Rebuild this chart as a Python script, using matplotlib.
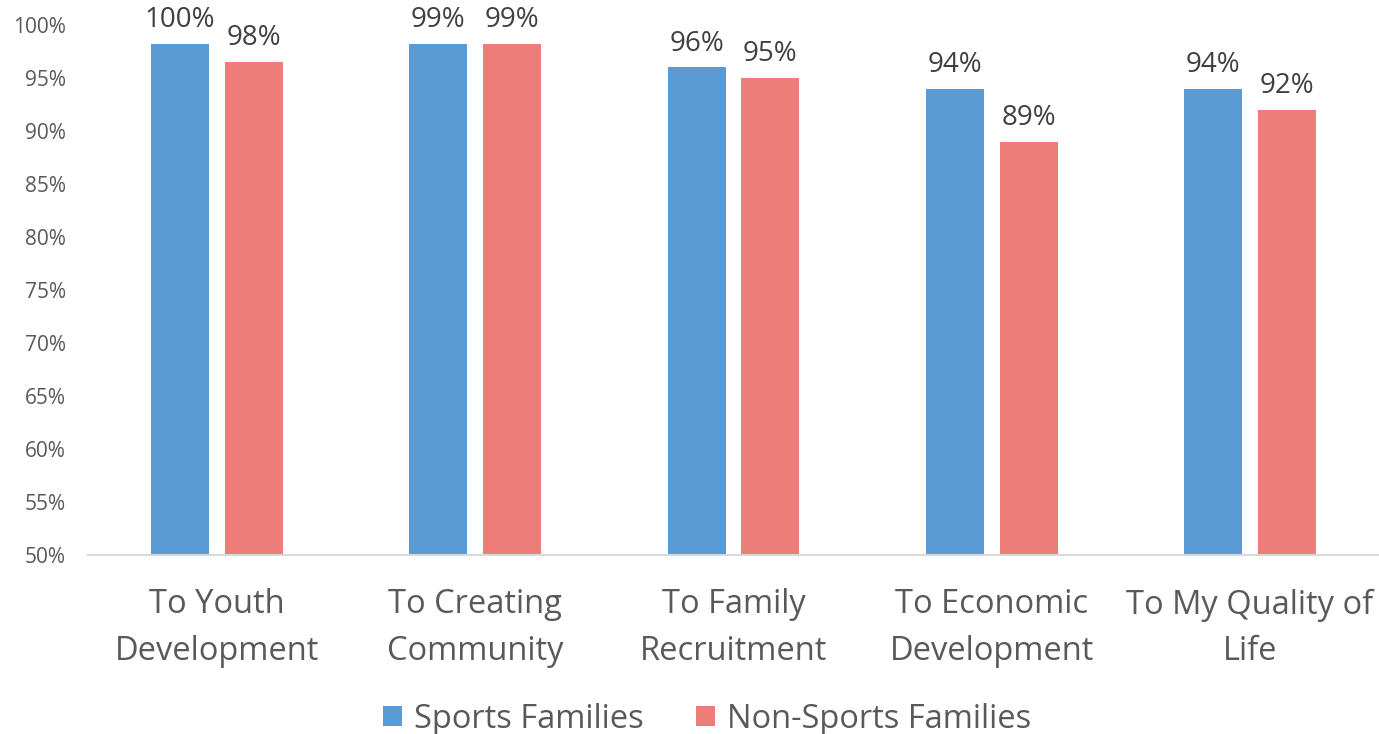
import matplotlib
matplotlib.use("Agg")
import matplotlib.pyplot as plt
import numpy as np
from matplotlib.ticker import FuncFormatter, MultipleLocator

plt.rcParams['font.family'] = ['Open Sans', 'DejaVu Sans']

categories = ["To Youth\nDevelopment", "To Creating\nCommunity", "To Family\nRecruitment",
              "To Economic\nDevelopment", "To My Quality of\nLife"]
series_names = ["Sports Families", "Non-Sports Families"]
# bar heights as drawn in the picture (%)
sports = [98.2, 98.2, 96.0, 94.0, 94.0]
non_sports = [96.5, 98.2, 95.0, 89.0, 92.0]
# data-label texts as printed
sports_labels = ["100%", "99%", "96%", "94%", "94%"]
non_sports_labels = ["98%", "99%", "95%", "89%", "92%"]

blue = "#5B9BD5"
red = "#ED7D78"

fig = plt.figure(figsize=(13.79, 7.34), dpi=100)
ax = fig.add_axes([88/1379, 1 - 555/734, (1379-88)/1379, (555-25)/734])

x = np.arange(len(categories))
w = 0.225
off = 0.143
b1 = ax.bar(x - off, sports, w, color=blue, label=series_names[0], zorder=2)
b2 = ax.bar(x + off, non_sports, w, color=red, label=series_names[1], zorder=2)

for bars, labs in ((b1, sports_labels), (b2, non_sports_labels)):
    for rect, lab in zip(bars, labs):
        ax.annotate(lab, (rect.get_x() + rect.get_width()/2, rect.get_height()),
                    xytext=(0, 7), textcoords="offset points", ha="center", va="bottom",
                    fontsize=20, color="#404040", annotation_clip=False)

ax.set_ylim(50, 100)
ax.set_xlim(-0.5, len(categories) - 0.5)
ax.yaxis.set_major_locator(MultipleLocator(5))
ax.yaxis.set_major_formatter(FuncFormatter(lambda v, p: f"{v:.0f}%"))
ax.set_xticks(x)
ax.set_xticklabels(categories, fontsize=23.5, color="#595959", linespacing=1.55)
ax.tick_params(axis='y', labelsize=15, colors="#595959", length=0, pad=16)
ax.tick_params(axis='x', length=0, pad=24)
for s in ("top", "right", "left"):
    ax.spines[s].set_visible(False)
ax.spines["bottom"].set_color("#D9D9D9")
ax.spines["bottom"].set_linewidth(1.5)
ax.set_facecolor("white")

leg = fig.legend(handles=[b1, b2], labels=series_names, loc="center",
                 bbox_to_anchor=(707/1379, 1 - 719/734), ncol=2, frameon=False,
                 fontsize=23.5, handlelength=0.6, handleheight=0.6, handletextpad=0.35,
                 columnspacing=1.6, labelcolor="#595959")

fig.savefig("out.png", dpi=100, facecolor="white")
